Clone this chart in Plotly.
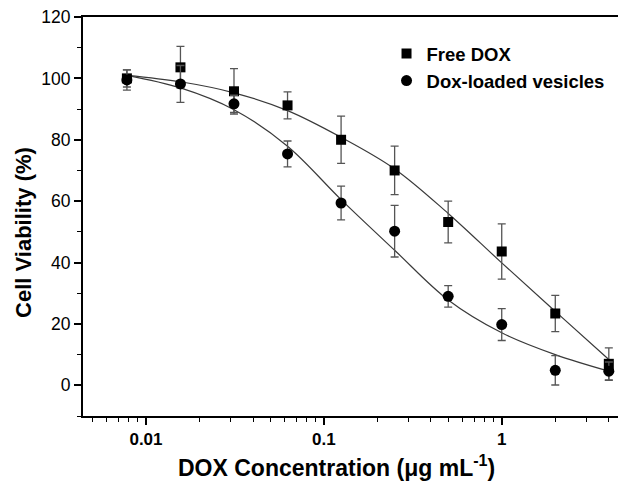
import plotly.graph_objects as go

conc = [0.0078125, 0.015625, 0.03125, 0.0625, 0.125, 0.25, 0.5, 1, 2, 4]

free_dox = [100.0, 103.6, 95.8, 91.2, 80.0, 70.0, 53.2, 43.6, 23.4, 7.0]
free_err = [2.8, 6.8, 7.4, 4.4, 7.7, 7.9, 6.8, 9.0, 5.9, 5.2]
free_fit = [101.0, 98.9, 95.3, 89.5, 80.8, 70.5, 56.0, 39.9, 24.1, 8.4]

ves = [99.5, 98.2, 91.7, 75.4, 59.4, 50.2, 29.0, 19.8, 4.9, 4.6]
ves_err = [3.3, 6.0, 2.8, 4.2, 5.5, 8.4, 3.5, 5.2, 4.8, 3.0]
ves_fit = [101.0, 96.9, 89.8, 77.9, 60.5, 44.0, 27.8, 17.1, 10.0, 4.6]

y_ticks = [0, 20, 40, 60, 80, 100, 120]
x_ticks = [0.01, 0.1, 1]
x_ticklabels = ["0.01", "0.1", "1"]
x_minor = [0.005, 0.006, 0.007, 0.008, 0.009,
           0.02, 0.03, 0.04, 0.05, 0.06, 0.07, 0.08, 0.09,
           0.2, 0.3, 0.4, 0.5, 0.6, 0.7, 0.8, 0.9,
           2, 3, 4]

x_title = "DOX Concentration (μg mL<sup>-1</sup>)"
y_title = "Cell Viability (%)"

fig = go.Figure()
fig.add_trace(go.Scatter(x=conc, y=free_fit, mode="lines", line=dict(color="#3a3a3a", width=1.2, shape="spline"),
                         showlegend=False, hoverinfo="skip"))
fig.add_trace(go.Scatter(x=conc, y=ves_fit, mode="lines", line=dict(color="#3a3a3a", width=1.2, shape="spline"),
                         showlegend=False, hoverinfo="skip"))
fig.add_trace(go.Scatter(x=conc, y=free_dox, mode="markers", name="Free DOX",
                         marker=dict(symbol="square", size=10, color="black"),
                         error_y=dict(type="data", array=free_err, color="#555555", thickness=1.3, width=4)))
fig.add_trace(go.Scatter(x=conc, y=ves, mode="markers", name="Dox-loaded vesicles",
                         marker=dict(symbol="circle", size=11, color="black"),
                         error_y=dict(type="data", array=ves_err, color="#555555", thickness=1.3, width=4)))

fig.update_layout(
    width=618, height=473,
    margin=dict(l=75, r=1, t=9, b=65, autoexpand=False),
    paper_bgcolor="white", plot_bgcolor="white",
    font=dict(family="Liberation Sans, Arial, sans-serif", color="black"),
    legend=dict(x=0.56, y=0.955, xanchor="left", yanchor="top",
                font=dict(size=18.5, family="Liberation Sans, Arial, sans-serif", weight="bold"),
                bgcolor="rgba(0,0,0,0)", tracegroupgap=0),
    xaxis=dict(type="log", range=[-2.354, 0.693], automargin=False,
               tickvals=x_ticks, ticktext=x_ticklabels,
               ticks="outside", ticklen=7, tickwidth=1.5, tickcolor="black",
               tickfont=dict(size=17, weight="bold"),
               minor=dict(tickmode="array", tickvals=x_minor, ticks="outside", ticklen=4, tickwidth=1.2,
                          tickcolor="black", showgrid=False),
               showline=True, linewidth=2, linecolor="black", mirror=True,
               showgrid=False, zeroline=False),
    yaxis=dict(range=[-10, 120], tickvals=y_ticks, automargin=False, ticklabeloverflow="allow",
               ticks="outside", ticklen=7, tickwidth=1.5, tickcolor="black",
               tickfont=dict(size=17.5),
               minor=dict(ticks="outside", ticklen=4, tickwidth=1.2, tickcolor="black", dtick=10, showgrid=False),
               showline=True, linewidth=2, linecolor="black", mirror=True,
               showgrid=False, zeroline=False),
    annotations=[
        dict(text=x_title, xref="paper", yref="paper", x=0.4686, y=-0.125,
             xanchor="center", yanchor="middle", showarrow=False,
             font=dict(size=23, weight="bold", color="black")),
        dict(text=y_title, xref="paper", yref="paper", x=-0.111, y=0.461, textangle=-90,
             xanchor="center", yanchor="middle", showarrow=False,
             font=dict(size=22, weight="bold", color="black")),
    ],
)

fig.write_html("out.html", config={"displayModeBar": False})
